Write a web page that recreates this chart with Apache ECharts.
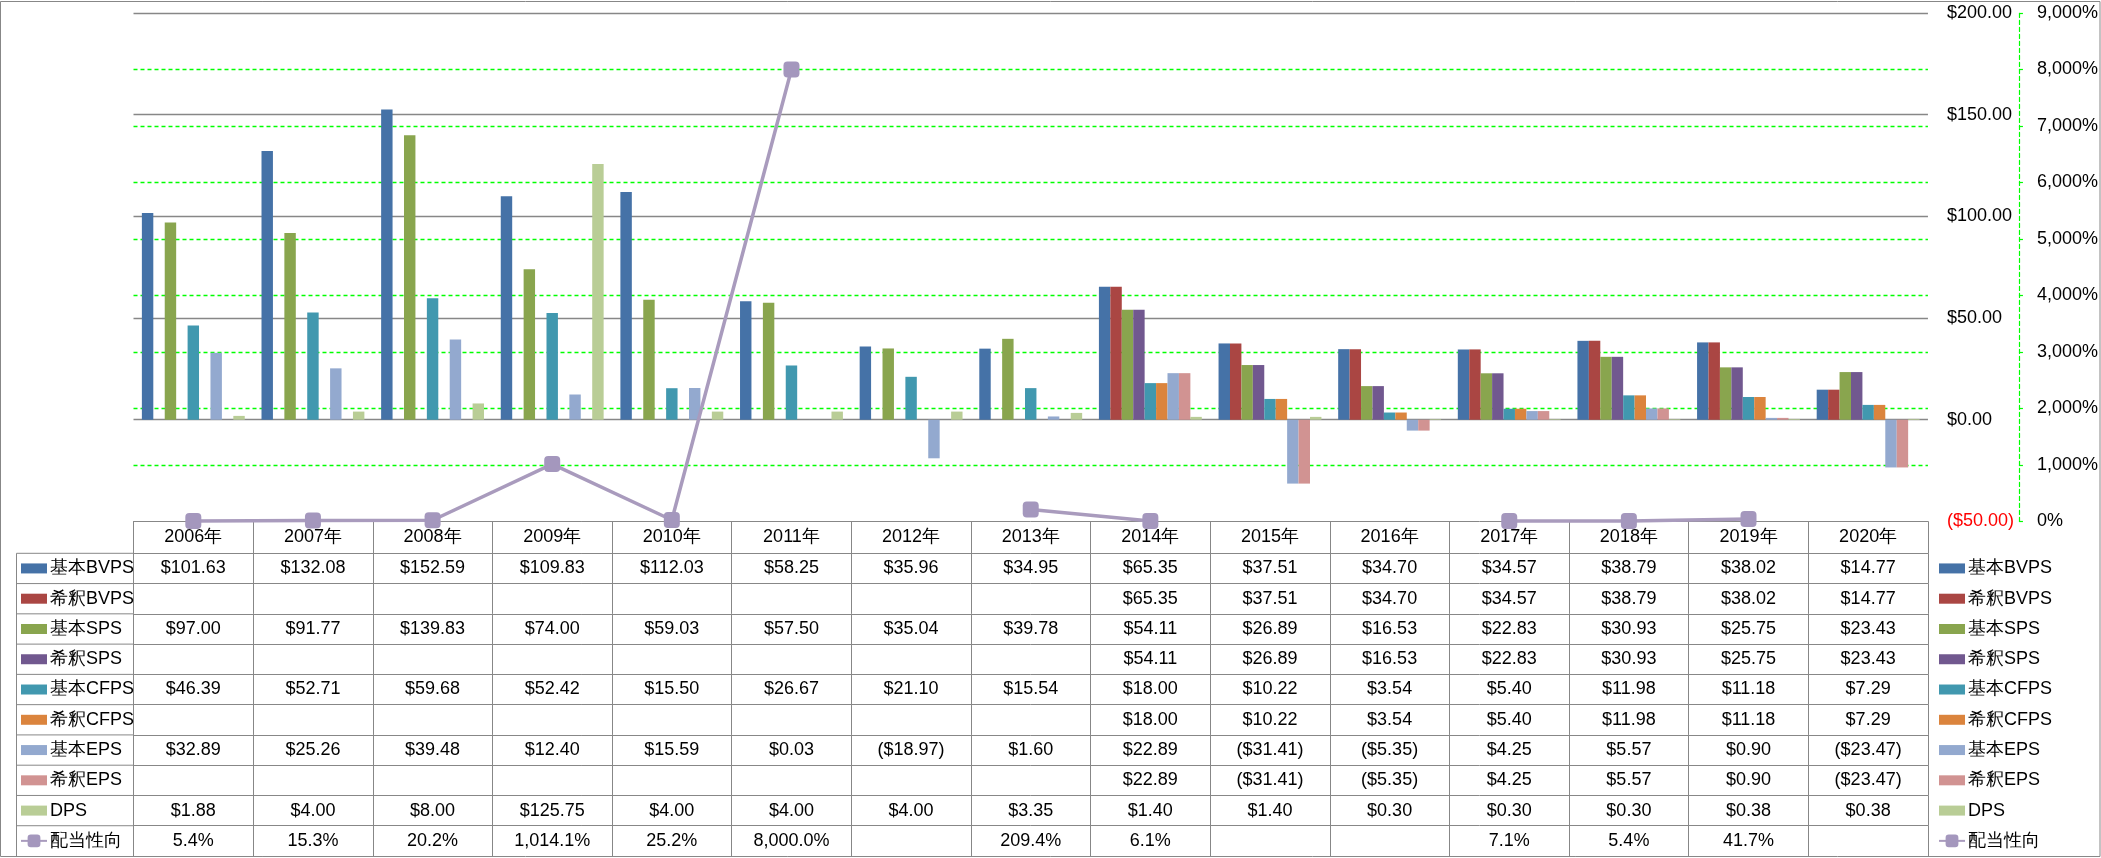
<!DOCTYPE html>
<html>
<head>
<meta charset="utf-8">
<script src="https://cdn.jsdelivr.net/npm/echarts@6/dist/echarts.min.js"></script>
<style>
html,body{margin:0;padding:0;background:#fff;}
#chart{width:2101px;height:858px;}
</style>
</head>
<body>
<div id="chart"></div>
<script>
// ---- data ----
const years = ['2006年','2007年','2008年','2009年','2010年','2011年','2012年','2013年','2014年','2015年','2016年','2017年','2018年','2019年','2020年'];
const basicBVPS = [101.63,132.08,152.59,109.83,112.03,58.25,35.96,34.95,65.35,37.51,34.70,34.57,38.79,38.02,14.77];
const dilBVPS   = [null,null,null,null,null,null,null,null,65.35,37.51,34.70,34.57,38.79,38.02,14.77];
const basicSPS  = [97.00,91.77,139.83,74.00,59.03,57.50,35.04,39.78,54.11,26.89,16.53,22.83,30.93,25.75,23.43];
const dilSPS    = [null,null,null,null,null,null,null,null,54.11,26.89,16.53,22.83,30.93,25.75,23.43];
const basicCFPS = [46.39,52.71,59.68,52.42,15.50,26.67,21.10,15.54,18.00,10.22,3.54,5.40,11.98,11.18,7.29];
const dilCFPS   = [null,null,null,null,null,null,null,null,18.00,10.22,3.54,5.40,11.98,11.18,7.29];
const basicEPS  = [32.89,25.26,39.48,12.40,15.59,0.03,-18.97,1.60,22.89,-31.41,-5.35,4.25,5.57,0.90,-23.47];
const dilEPS    = [null,null,null,null,null,null,null,null,22.89,-31.41,-5.35,4.25,5.57,0.90,-23.47];
const dps       = [1.88,4.00,8.00,125.75,4.00,4.00,4.00,3.35,1.40,1.40,0.30,0.30,0.30,0.38,0.38];
const payout    = [5.4,15.3,20.2,1014.1,25.2,8000.0,null,209.4,6.1,null,null,7.1,5.4,41.7,null];

const barNames = ['基本BVPS','希釈BVPS','基本SPS','希釈SPS','基本CFPS','希釈CFPS','基本EPS','希釈EPS','DPS'];
const barData  = [basicBVPS,dilBVPS,basicSPS,dilSPS,basicCFPS,dilCFPS,basicEPS,dilEPS,dps];
const barColors = ['#4572A7','#AA4643','#89A54E','#71588F','#4198AF','#DB843D','#93A9CF','#D19392','#B9CD96'];
const lineName = '配当性向';
const lineColor = '#A99BBD';
const markerColor = '#A497BD';

// ---- formatting ----
function withCommas(s){
  const parts = s.split('.');
  parts[0] = parts[0].replace(/\B(?=(\d{3})+(?!\d))/g, ',');
  return parts.join('.');
}
function money(v){
  if(v === null || v === undefined) return '';
  const a = withCommas(Math.abs(v).toFixed(2));
  return v < 0 ? '($' + a + ')' : '$' + a;
}
function pct1(v){
  if(v === null || v === undefined) return '';
  return withCommas(v.toFixed(1)) + '%';
}

// ---- layout ----
const FONT = "'Liberation Sans',Arial,sans-serif";
const FS = 18;
const GRAY = '#878787';
const GREEN = '#00FF00';
const plotLeft = 133.5, plotRight = 1928, plotTop = 13, plotBottom = 521.4;
const W = 2101, H = 858;
const headerH = 31.9;
const rowH = 30.27;
const rowsTop = plotBottom + headerH;

const tableRows = barData.map(d => d.map(money)).concat([payout.map(pct1)]);

const xAxes = [{
  type: 'category', data: years, position: 'bottom', gridIndex: 0,
  axisLine: {show: true, onZero: false, lineStyle: {color: GRAY, width: 1}},
  axisTick: {show: true, interval: 0, length: headerH, lineStyle: {color: GRAY, width: 1}},
  axisLabel: {interval: 0, margin: headerH/2, verticalAlign: 'middle', fontSize: FS, color: '#000', fontFamily: FONT},
  splitLine: {show: false}
}];
tableRows.forEach((row, i) => {
  xAxes.push({
    type: 'category', data: years, position: 'bottom', gridIndex: 0,
    offset: headerH + i*rowH,
    axisLine: {show: true, onZero: false, lineStyle: {color: GRAY, width: 1}},
    axisTick: {show: true, interval: 0, length: rowH, lineStyle: {color: GRAY, width: 1}},
    axisLabel: {interval: 0, margin: rowH/2, verticalAlign: 'middle', fontSize: FS, color: '#000', fontFamily: FONT,
      formatter: (val, idx) => row[idx]},
    splitLine: {show: false}
  });
});

const series = barNames.map((n, i) => ({
  name: n, type: 'bar', xAxisIndex: 0, yAxisIndex: 0,
  data: barData[i], barGap: '0%', barCategoryGap: '14%',
  itemStyle: {color: barColors[i]}
}));
series.push({
  name: lineName, type: 'line', xAxisIndex: 0, yAxisIndex: 1,
  data: payout, symbol: 'roundRect', symbolSize: 16, connectNulls: false, clip: false, z: 10,
  lineStyle: {color: lineColor, width: 3.5},
  itemStyle: {color: markerColor}
});

// legend swatch: 26x10 rect inside a 26x16 box (zero-length segments keep the box)
const swatch = 'path://M0 0L0 0M0 3L26 3L26 13L0 13ZM26 16L26 16';
const legendData = barNames.map(n => ({name: n, icon: swatch})).concat([{name: lineName}]);
function mkLegend(left){
  return {
    orient: 'vertical', left: left, top: rowsTop + rowH/2 - 9, padding: 0,
    itemWidth: 26, itemHeight: 16, itemGap: rowH - 18,
    data: legendData,
    textStyle: {fontSize: FS, lineHeight: 18, color: '#000', fontFamily: FONT, padding: [0,0,0,-2]},
    selectedMode: false
  };
}

const graphics = [{
  type: 'rect', shape: {x: 0.5, y: 1.5, width: W - 1.5, height: 855}, silent: true,
  style: {fill: 'none', stroke: GRAY, lineWidth: 1}
}, {
  type: 'line', shape: {x1: 16.5, y1: rowsTop, x2: 16.5, y2: 856.5}, silent: true,
  style: {stroke: GRAY, lineWidth: 1}
}];
for(let i = 0; i < tableRows.length; i++){
  const y = rowsTop + i*rowH;
  graphics.push({type: 'line', shape: {x1: 16.5, y1: y, x2: plotLeft, y2: y}, silent: true,
    style: {stroke: GRAY, lineWidth: 1}});
}

const option = {
  animation: false,
  backgroundColor: '#fff',
  textStyle: {fontFamily: FONT},
  grid: {left: plotLeft, right: W - plotRight, top: plotTop, bottom: H - plotBottom, containLabel: false},
  legend: [mkLegend(20), mkLegend(1938)],
  xAxis: xAxes,
  yAxis: [{
    type: 'value', position: 'right', min: -50, max: 200, interval: 50,
    axisLine: {show: false}, axisTick: {show: false},
    axisLabel: {margin: 19, fontSize: FS, fontFamily: FONT,
      formatter: v => money(v),
      color: v => (Number(v) < 0 ? '#FF0000' : '#000')},
    splitLine: {show: true, showMinLine: false, lineStyle: {color: GRAY, width: 1.3}}
  }, {
    type: 'value', position: 'right', offset: 91, min: 0, max: 9000, interval: 1000,
    axisLine: {show: true, lineStyle: {color: GREEN, width: 1.2, type: [4,3]}},
    axisTick: {show: true, length: 4, lineStyle: {color: GREEN, width: 1.2}},
    axisLabel: {margin: 18, fontSize: FS, color: '#000', fontFamily: FONT,
      formatter: v => withCommas(String(Math.round(v))) + '%'},
    splitLine: {show: true, showMinLine: false, showMaxLine: false, lineStyle: {color: GREEN, width: 1.3, type: [4,3]}}
  }],
  graphic: graphics,
  series: series
};

const chart = echarts.init(document.getElementById('chart'), null, {renderer: 'canvas'});
chart.setOption(option);
</script>
</body>
</html>
